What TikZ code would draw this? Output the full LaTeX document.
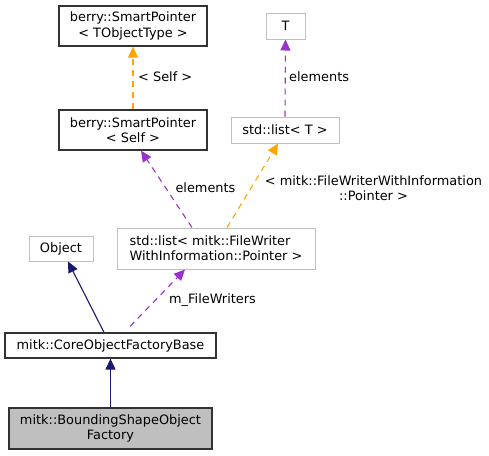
\documentclass[tikz,border=0pt]{standalone}
\usepackage{xcolor}
\usepackage{fontspec}
\setmainfont{DejaVu Sans}
\usetikzlibrary{arrows.meta,positioning,calc}

\definecolor{edgeblue}{HTML}{191970}
\definecolor{edgepurple}{HTML}{9A32CD}
\definecolor{edgeorange}{HTML}{FFA500}
\definecolor{boxgray}{HTML}{BFBFBF}

\tikzset{
  cls/.style={draw=black!80, line width=1.3pt, inner sep=0pt, align=center,
    font=\fontsize{12.9}{15.3}\selectfont},
  ext/.style={cls, draw=boxgray, line width=1pt},
  lbl/.style={inner sep=0pt, align=center, font=\fontsize{12.9}{15.3}\selectfont},
  inh/.style={draw=edgeblue, line width=1.1pt, -{Triangle[length=11pt,width=10pt]}},
  use/.style={draw=edgepurple, line width=1.1pt, dash pattern=on 6pt off 5pt,
    -{Triangle[length=11pt,width=10pt]}},
  tpl/.style={draw=edgeorange, line width=1.1pt, dash pattern=on 6pt off 5pt,
    -{Triangle[length=11pt,width=10pt]}}
}

\begin{document}
\begin{tikzpicture}[x=1pt, y=1pt]
  \useasboundingbox (0,0) rectangle (489,-455);
  % Top row
  \node[cls, minimum width=148pt, minimum height=40pt] (spT) at (133,-26) {berry::SmartPointer\\< TObjectType >};
  \node[ext, minimum width=39pt, minimum height=26pt] (T) at (285.5,-26) {T};
  % Second row
  \node[cls, minimum width=148pt, minimum height=40pt] (spSelf) at (133,-130) {berry::SmartPointer\\< Self >};
  \node[ext, minimum width=108pt, minimum height=26pt] (listT) at (285,-130) {std::list< T >};
  % Third row
  \node[ext, minimum width=64pt, minimum height=25pt] (obj) at (61,-248.5) {Object};
  \node[ext, minimum width=198pt, minimum height=41pt, align=left] (listFW) at (216,-248.5) {std::list< mitk::FileWriter\\WithInformation::Pointer >};
  % Factories
  \node[cls, minimum width=211pt, minimum height=25pt, fill=white] (base) at (110.5,-345.5) {mitk::CoreObjectFactoryBase};
  \node[cls, minimum width=203pt, minimum height=41pt, fill=boxgray] (bsof) at (110.5,-428.5) {mitk::BoundingShapeObject\\Factory};
  % Edges
  \draw[tpl] (spSelf.north) -- (spT.south);
  \draw[use] (listT.north) -- (T.south);
  \draw[use] ([xshift=-24pt]listFW.north) -- ([xshift=8pt]spSelf.south);
  \draw[tpl] ([xshift=11pt]listFW.north) -- ([xshift=-7pt]listT.south);
  \draw[inh] ([xshift=-6.5pt]base.north) -- ([xshift=7pt]obj.south);
  \draw[use] ([xshift=19.5pt,yshift=6pt]base.north) -- ([xshift=-31pt]listFW.south);
  \draw[inh] (bsof.north) -- (base.south);
  % Labels
  \node[lbl, anchor=west] (lself) at (138,-77) {< Self >};
  \node[lbl, anchor=west] (lelemT) at (289,-77) {elements};
  \node[lbl] (lelemS) at (205.5,-188) {elements};
  \node[lbl] (lptr) at (373.5,-188) {< mitk::FileWriterWithInformation\\::Pointer >};
  \node[lbl] (lwriters) at (212.5,-300) {m\_FileWriters};
\end{tikzpicture}
\end{document}
